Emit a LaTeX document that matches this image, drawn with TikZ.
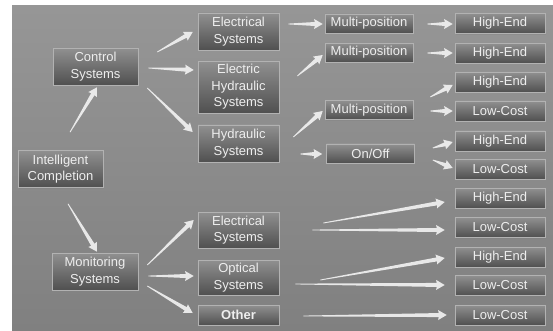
\documentclass[tikz,border=0pt]{standalone}
\usepackage{fontspec}
\setmainfont{Liberation Sans}
\usetikzlibrary{calc,shadows}
\definecolor{bgtop}{RGB}{150,150,150}
\definecolor{bgbot}{RGB}{128,128,128}
\definecolor{bxtop}{RGB}{144,144,144}
\definecolor{bxbot}{RGB}{80,80,80}
\definecolor{bxline}{RGB}{178,178,178}
\definecolor{txt}{RGB}{238,238,238}
\definecolor{arrcol}{RGB}{240,240,240}
\begin{document}
\begin{tikzpicture}[x=1pt,y=-1pt,
  box/.style={rectangle, draw=bxline, line width=0.6pt, top color=bxtop, bottom color=bxbot,
    text=txt, align=center, inner sep=0pt, font=\fontsize{13}{16.5}\selectfont,
    drop shadow={opacity=0.35, shadow xshift=0.6pt, shadow yshift=-1.4pt}},
  wide/.style={box, minimum width=85pt, minimum height=37pt},
  mid/.style={box, minimum width=81pt},
  small/.style={box, minimum width=88pt, minimum height=19pt},
  leaf/.style={box, minimum width=90pt, minimum height=20pt},
  arr/.style={fill=arrcol, fill opacity=0.93, draw=none,
    to path={let \p1=(\tikztostart), \p2=(\tikztotarget),
      \n1={atan2(\y2-\y1,\x2-\x1)} in
      ($(\p1)+(\n1+90:0.4pt)$)
      -- ($(\p2)+(\n1+180:8pt)+(\n1+90:2pt)$)
      -- ($(\p2)+(\n1+180:8.6pt)+(\n1+90:5pt)$)
      -- (\p2)
      -- ($(\p2)+(\n1+180:8.6pt)+(\n1-90:5pt)$)
      -- ($(\p2)+(\n1+180:8pt)+(\n1-90:2pt)$)
      -- ($(\p1)+(\n1-90:0.4pt)$) -- cycle}}]
\useasboundingbox (0,0) rectangle (553,331);
\fill[white] (0,0) rectangle (553,331);
\path[top color=bgtop, bottom color=bgbot] (12,6) rectangle (553,331);

% column 1
\node[wide] (ic) at (60.5,169) {Intelligent\\Completion};
\node[wide] (ctrl) at (95.5,66.5) {Control\\Systems};
\node[wide, minimum width=86pt] (mon) at (95,271.5) {Monitoring\\Systems};

% column 2
\node[mid, minimum height=37pt] (es1) at (238.5,31.5) {Electrical\\Systems};
\node[mid, minimum height=52pt] (ehs) at (238.5,87) {Electric\\Hydraulic\\Systems};
\node[mid, minimum height=37pt] (hs) at (238.5,143.5) {Hydraulic\\Systems};
\node[mid, minimum height=36pt] (es2) at (238.5,230) {Electrical\\Systems};
\node[mid, minimum height=35pt] (os) at (238.5,277.5) {Optical\\Systems};
\node[mid, minimum height=20pt, font=\fontsize{13}{16.5}\selectfont\bfseries] (oth) at (238.5,315) {Other};

% column 3
\node[small] (mp1) at (369,23.5) {Multi-position};
\node[small] (mp2) at (369,52.5) {Multi-position};
\node[small] (mp3) at (369,110) {Multi-position};
\node[small] (onoff) at (370.5,153.5) {On/Off};

% column 4
\node[leaf] (he1) at (500,23.5) {High-End};
\node[leaf] (he2) at (500,53) {High-End};
\node[leaf] (he3) at (500,82) {High-End};
\node[leaf] (lc1) at (500,111) {Low-Cost};
\node[leaf] (he4) at (500,141) {High-End};
\node[leaf] (lc2) at (500,169) {Low-Cost};
\node[leaf] (he5) at (500,198) {High-End};
\node[leaf] (lc3) at (500,227.5) {Low-Cost};
\node[leaf] (he6) at (500,257) {High-End};
\node[leaf] (lc4) at (500,285.5) {Low-Cost};
\node[leaf] (lc5) at (500,315) {Low-Cost};

% connectors
\path[arr] ([shift={(9.5,-18)}]ic.north) to ([shift={(1.5,2)}]ctrl.south);
\path[arr] ([shift={(7.5,16)}]ic.south) to ([shift={(2,-1)}]mon.north);
\path[arr] ([shift={(19,-14.5)}]ctrl.east) to ([shift={(-5,0.5)}]es1.west);
\path[arr] ([shift={(10,1.5)}]ctrl.east) to ([shift={(-4,-17)}]ehs.west);
\path[arr] ([shift={(9,21.5)}]ctrl.east) to ([shift={(-5,-11.5)}]hs.west);
\path[arr] ([shift={(9,-6.5)}]mon.east) to ([shift={(-4,-10)}]es2.west);
\path[arr] ([shift={(10,4.5)}]mon.east) to ([shift={(-4,-1.5)}]os.west);
\path[arr] ([shift={(9,14.5)}]mon.east) to ([shift={(-5,-2)}]oth.west);

\path[arr] ([shift={(9,-7.5)}]es1.east) to ([shift={(-2,0.5)}]mp1.west);
\path[arr] ([shift={(18,-11)}]ehs.east) to ([shift={(-2,2.5)}]mp2.west);
\path[arr] ([shift={(14,-6.5)}]hs.east) to ([shift={(-2,1)}]mp3.west);
\path[arr] ([shift={(21,10.5)}]hs.east) to ([shift={(-4,0.5)}]onoff.west);

\path[arr] ([shift={(14,0.5)}]mp1.east) to ([shift={(-2,0.5)}]he1.west);
\path[arr] ([shift={(14,0.5)}]mp2.east) to ([shift={(-2,0)}]he2.west);
\path[arr] ([shift={(17,-13)}]mp3.east) to ([shift={(-2,3)}]he3.west);
\path[arr] ([shift={(17,1)}]mp3.east) to ([shift={(-2,0)}]lc1.west);
\path[arr] ([shift={(18,-5.5)}]onoff.east) to ([shift={(-2,1)}]he4.west);
\path[arr] ([shift={(18,6.5)}]onoff.east) to ([shift={(-2,-1)}]lc2.west);

\path[arr] ([shift={(44,-7)}]es2.east) to ([shift={(-10,4)}]he5.west);
\path[arr] ([shift={(33,0)}]es2.east) to ([shift={(-10,2.5)}]lc3.west);
\path[arr] ([shift={(41,2.5)}]os.east) to ([shift={(-10,1)}]he6.west);
\path[arr] ([shift={(16,6.5)}]os.east) to ([shift={(-10,-0.5)}]lc4.west);
\path[arr] ([shift={(24,1)}]oth.east) to ([shift={(-8,0)}]lc5.west);
\end{tikzpicture}
\end{document}
